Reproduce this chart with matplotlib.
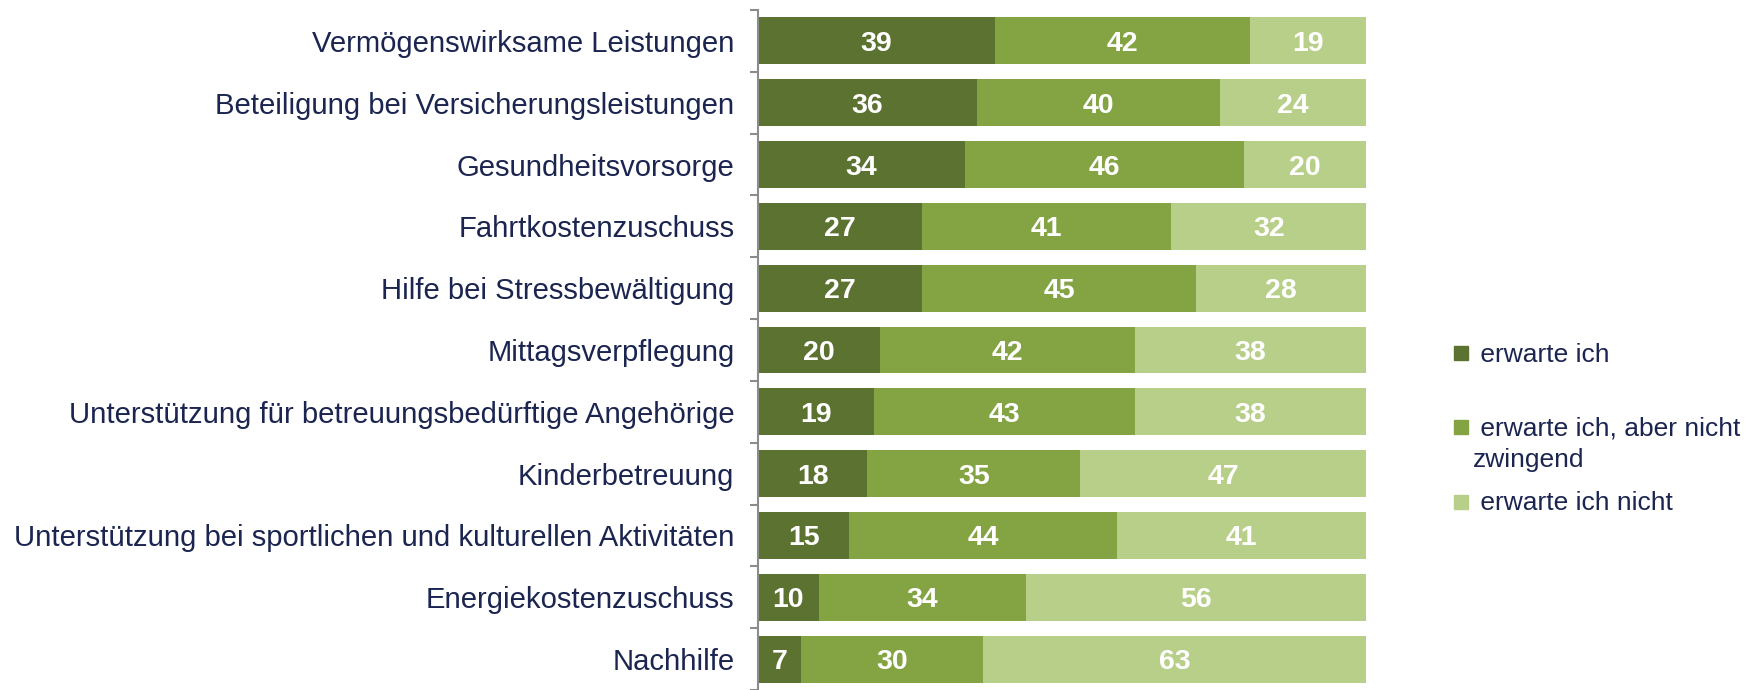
"""Stacked horizontal bars: expected employer benefits."""
import matplotlib
matplotlib.use("Agg")
import matplotlib.pyplot as plt
import numpy as np
from matplotlib.patches import Rectangle

categories = [
    "Vermögenswirksame Leistungen",
    "Beteiligung bei Versicherungsleistungen",
    "Gesundheitsvorsorge",
    "Fahrtkostenzuschuss",
    "Hilfe bei Stressbewältigung",
    "Mittagsverpflegung",
    "Unterstützung für betreuungsbedürftige Angehörige",
    "Kinderbetreuung",
    "Unterstützung bei sportlichen und kulturellen Aktivitäten",
    "Energiekostenzuschuss",
    "Nachhilfe",
]
erwarte = [39, 36, 34, 27, 27, 20, 19, 18, 15, 10, 7]
nicht_zwingend = [42, 40, 46, 41, 45, 42, 43, 35, 44, 34, 30]
erwarte_nicht = [19, 24, 20, 32, 28, 38, 38, 47, 41, 56, 63]

series_labels = [" erwarte ich", " erwarte ich, aber nicht\nzwingend", " erwarte ich nicht"]
colors = ["#5C7230", "#84A443", "#B8CF8A"]
text_color = "#1B2550"

plt.rcParams["font.family"] = ["Liberation Sans", "DejaVu Sans"]

fig = plt.figure(figsize=(17.48, 6.90), dpi=100)
ax = fig.add_axes([758 / 1748, 0.0, (1366 - 758) / 1748, 1 - 10 / 690])

y = np.arange(len(categories))
left = np.zeros(len(categories))
for vals, col in zip([erwarte, nicht_zwingend, erwarte_nicht], colors):
    vals = np.array(vals)
    ax.barh(y, vals, left=left, height=0.76, color=col)
    for yi, l, v in zip(y, left, vals):
        ax.text(l + v / 2, yi, str(v), ha="center", va="center_baseline",
                color="white", fontsize=20.5, fontweight="bold")
    left += vals

ax.set_xlim(0, 100)
ax.set_ylim(len(categories) - 0.5, -0.5)
ax.set_yticks(y)
ax.set_yticklabels(categories, fontsize=21.1, color=text_color)
ax.tick_params(axis="y", which="major", length=0, pad=17)
ax.set_yticks(np.arange(-0.5, len(categories), 1), minor=True)
ax.tick_params(axis="y", which="minor", length=6, width=1.5, color="#8C8C8C")
ax.set_xticks([])
for s in ["top", "right", "bottom"]:
    ax.spines[s].set_visible(False)
ax.spines["left"].set_color("#8C8C8C")
ax.spines["left"].set_linewidth(1.5)

# legend drawn by hand so the wrapped entry lines up like the original
leg_y = [352, 426, 501]
for ly, lab, col in zip(leg_y, series_labels, colors):
    fig.add_artist(Rectangle((1454 / 1748, 1 - (ly + 8) / 690), 14 / 1748, 14 / 690,
                             transform=fig.transFigure, color=col))
    for k, line in enumerate(lab.split("\n")):
        fig.text(1473 / 1748, 1 - (ly + 31 * k) / 690, line,
                 ha="left", va="center_baseline", fontsize=19, color=text_color)

fig.savefig("out.png", dpi=100)
